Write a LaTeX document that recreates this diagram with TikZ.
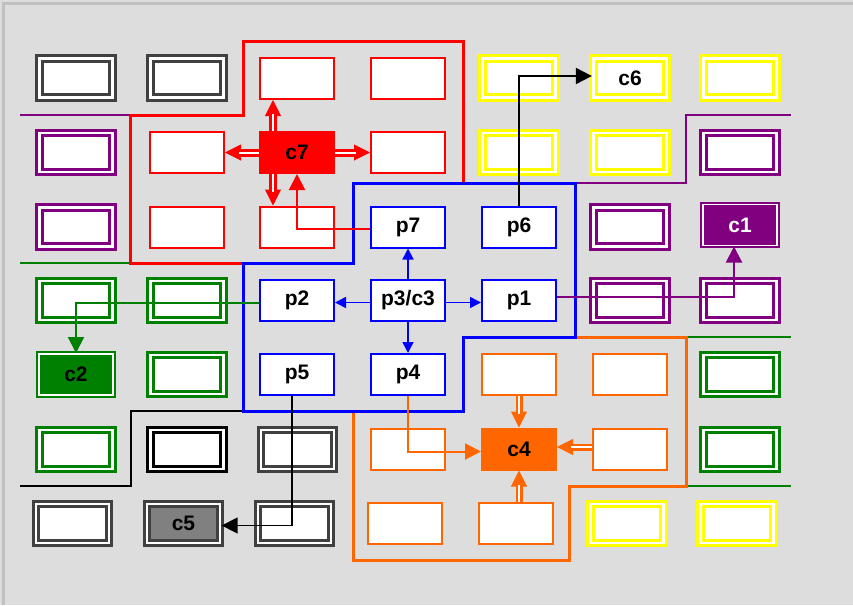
\documentclass[tikz,border=0pt]{standalone}
\usepackage{fontspec}
\setmainfont{Liberation Sans}
\usetikzlibrary{arrows.meta}
\definecolor{myred}{HTML}{FF0000}
\definecolor{myblue}{HTML}{0000FF}
\definecolor{mypurple}{HTML}{800080}
\definecolor{mygreen}{HTML}{008000}
\definecolor{myorange}{HTML}{FF6600}
\definecolor{myyellow}{HTML}{FFFF00}
\definecolor{mydgray}{HTML}{404040}
\definecolor{cfivegray}{HTML}{808080}
\definecolor{bgray}{HTML}{DDDDDD}
\definecolor{framegray}{HTML}{C0C0C0}
\tikzset{
  boxtext/.style={font=\bfseries\fontsize{21}{21}\selectfont, text=black},
  sbox/.style={rectangle, draw=#1, line width=2pt, fill=white, minimum width=74pt, minimum height=41pt, inner sep=0pt, boxtext},
  dbox/.style={rectangle, draw=#1, double=white, line width=3.3pt, double distance=2.2pt, fill=white, minimum width=73pt, minimum height=39pt, inner sep=0pt, boxtext},
  fbox/.style={rectangle, draw=#1, fill=#1, line width=2pt, minimum width=74pt, minimum height=41pt, inner sep=0pt, boxtext},
  fdbox/.style={rectangle, draw=#1, fill=#1, double=white, line width=2pt, double distance=1.2pt, minimum width=74pt, minimum height=41pt, inner sep=0pt, boxtext},
  region/.style={draw=#1, line width=3pt},
  thinline/.style={draw=#1, line width=1.3pt},
  conn/.style={draw=#1, line width=2pt, -{Triangle[length=16pt,width=16pt]}},
  bconn/.style={draw=myblue, line width=1.6pt, -{Triangle[length=11pt,width=11pt]}},
  dshaft/.style={draw=#1, shorten >=13pt},
  dtip/.style={draw=#1, fill=#1, line width=1pt, -{Triangle[length=16pt,width=16pt]}},
  dcore/.style={draw=white, line width=2pt, shorten >=14pt},
}
\newcommand\dblarr[4]{%
  \draw[dshaft=#1, line width=#2] #3 -- #4;
  \draw[dtip=#1] #3 -- #4;
  \draw[dcore] #3 -- #4;
}
\begin{document}
\begin{tikzpicture}[x=1pt,y=-1pt]
\useasboundingbox (0,0) rectangle (853,605);
\fill[bgray] (0,0) rectangle (853,605);
\draw[framegray, line width=3pt] (3,605) -- (3,3) -- (853,3);

% row 1
\node[dbox=mydgray] (n11) at (76,78) {};
\node[dbox=mydgray] (n12) at (187,78) {};
\node[sbox=myred] (n13) at (297,78.5) {};
\node[sbox=myred] (n14) at (408,78.5) {};
\node[dbox=myyellow] (n15) at (519,78) {};
\node[dbox=myyellow] (n16) at (630,78) {c6};
\node[dbox=myyellow] (n17) at (740,78) {};
% row 2
\node[dbox=mypurple] (n21) at (76,152.5) {};
\node[sbox=myred] (n22) at (187,152.5) {};
\node[fbox=myred] (n23) at (297,152.5) {c7};
\node[sbox=myred] (n24) at (408,152.5) {};
\node[dbox=myyellow] (n25) at (519,152.5) {};
\node[dbox=myyellow] (n26) at (630,152.5) {};
\node[dbox=mypurple] (n27) at (740,152.5) {};
% row 3
\node[dbox=mypurple] (n31) at (76,227) {};
\node[sbox=myred] (n32) at (187,227) {};
\node[sbox=myred] (n33) at (297,227) {};
\node[sbox=myblue] (n34) at (408,227) {p7};
\node[sbox=myblue] (n35) at (519,227) {p6};
\node[dbox=mypurple] (n36) at (630,227) {};
\node[fdbox=mypurple, text=white] (n37) at (740,225) {c1};
% row 4
\node[dbox=mygreen] (n41) at (76,300.5) {};
\node[dbox=mygreen] (n42) at (187,300.5) {};
\node[sbox=myblue] (n43) at (297,300.5) {p2};
\node[sbox=myblue] (n44) at (408,300.5) {p3/c3};
\node[sbox=myblue] (n45) at (519,300.5) {p1};
\node[dbox=mypurple] (n46) at (630,300.5) {};
\node[dbox=mypurple] (n47) at (740,300.5) {};
% row 5
\node[fdbox=mygreen] (n51) at (76,374.5) {c2};
\node[dbox=mygreen] (n52) at (187,374.5) {};
\node[sbox=myblue] (n53) at (297,374.5) {p5};
\node[sbox=myblue] (n54) at (408,374.5) {p4};
\node[sbox=myorange] (n55) at (519,374.5) {};
\node[sbox=myorange] (n56) at (630,374.5) {};
\node[dbox=mygreen] (n57) at (740,374.5) {};
% row 6
\node[dbox=mygreen] (n61) at (76,449.5) {};
\node[dbox=black] (n62) at (187,449.5) {};
\node[dbox=mydgray] (n63) at (297.5,449.5) {};
\node[sbox=myorange] (n64) at (408,449) {};
\node[fbox=myorange] (n65) at (519,449) {c4};
\node[sbox=myorange] (n66) at (630,449) {};
\node[dbox=mygreen] (n67) at (740,449.5) {};
% row 7
\node[dbox=mydgray] (n71) at (72.5,523.5) {};
\node[dbox=mydgray, fill=cfivegray] (n72) at (183.5,523.5) {c5};
\node[dbox=mydgray] (n73) at (294.5,523.5) {};
\node[sbox=myorange] (n74) at (405,523.5) {};
\node[sbox=myorange] (n75) at (516,523.5) {};
\node[dbox=myyellow] (n76) at (627,523.5) {};
\node[dbox=myyellow] (n77) at (737,523.5) {};

% regions
\draw[region=myred] (243,41) -- (463,41) -- (463,183) -- (353,183) -- (353,263) -- (130,263) -- (130,115) -- (243,115) -- cycle;
\draw[region=myorange] (353,411) -- (463,411) -- (463,337) -- (686,337) -- (686,486) -- (569,486) -- (569,560) -- (353,560) -- cycle;
\draw[region=myblue] (353,183) -- (575,183) -- (575,337) -- (463,337) -- (463,411) -- (243,411) -- (243,263) -- (353,263) -- cycle;
\draw[thinline=mypurple] (20,115) -- (128.5,115);
\draw[thinline=mypurple] (576.5,183) -- (686,183) -- (686,115) -- (791,115);
\draw[thinline=mygreen] (20,263) -- (128.5,263);
\draw[thinline=mygreen] (687.5,337) -- (791,337);
\draw[thinline=mygreen] (687.5,486) -- (791,486);
\draw[thinline=black] (241.5,411) -- (131,411) -- (131,486) -- (20,486);

% c7 double arrows
\dblarr{myred}{8pt}{([xshift=-24pt]n23.north)}{([xshift=-24pt]n13.south)}
\dblarr{myred}{8pt}{(n23.west)}{(n22.east)}
\dblarr{myred}{8pt}{(n23.east)}{(n24.west)}
\dblarr{myred}{8pt}{([xshift=-24pt]n23.south)}{([xshift=-24pt]n33.north)}
% c4 double arrows
\dblarr{myorange}{7pt}{(n55.south)}{(n65.north)}
\dblarr{myorange}{7pt}{([yshift=2pt]n66.west)}{([yshift=2pt]n65.east)}
\dblarr{myorange}{7pt}{(n75.north -| n65.south)}{(n65.south)}

% single connectors
\draw[conn=myred] ([yshift=-2pt]n34.west) -| (n23.south);
\draw[conn=black] (n35.north) |- ([yshift=2pt]n16.west);
\draw[conn=mypurple] ([yshift=3.5pt]n45.east) -| ([xshift=-6pt]n37.south);
\draw[conn=mygreen] ([yshift=-2.5pt]n43.west) -| (n51.north);
\draw[conn=myorange] (n54.south) |- ([yshift=-2.5pt]n65.west);
\draw[conn=black, line width=1.4pt] ([xshift=-5pt]n53.south) |- ([yshift=-2pt]n72.east);

% blue connectors
\draw[bconn] (n44.north) -- (n34.south);
\draw[bconn] ([yshift=-2pt]n44.west) -- ([yshift=-2pt]n43.east);
\draw[bconn] ([yshift=-2pt]n44.east) -- ([yshift=-2pt]n45.west);
\draw[bconn] (n44.south) -- (n54.north);
\end{tikzpicture}
\end{document}
